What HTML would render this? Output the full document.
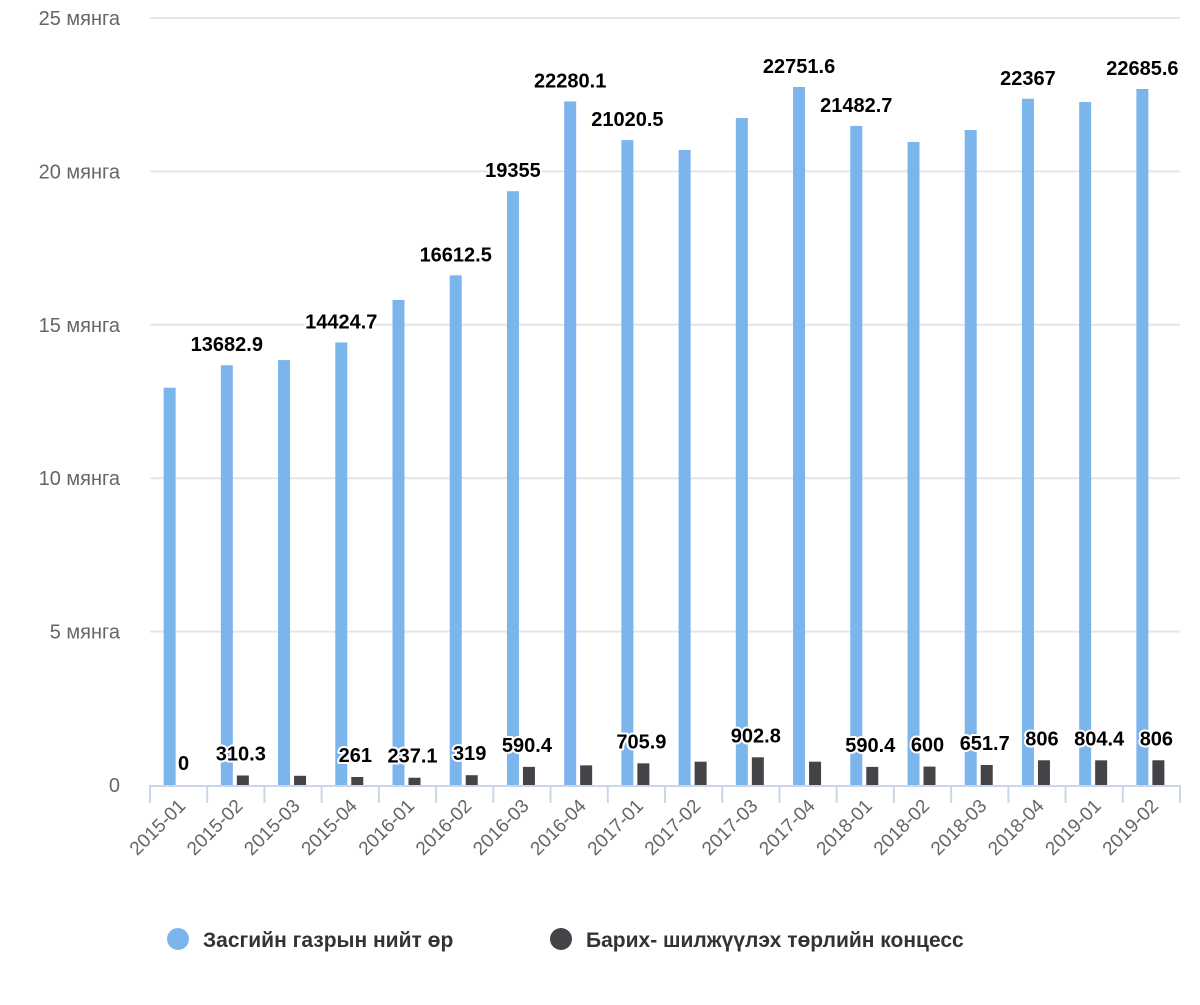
<!DOCTYPE html>
<html><head><meta charset="utf-8"><style>
body{margin:0;background:#fff;font-family:"Liberation Sans",sans-serif;}
svg text{font-family:"Liberation Sans","DejaVu Sans",sans-serif;}
</style></head><body>
<svg id="chart" width="1200" height="1000" xmlns="http://www.w3.org/2000/svg">
<g id="grid"></g>
<g id="yaxis"></g>
<g id="xaxis"></g>
<g id="bars"></g>
<g id="labels"></g>
<g>
<g><circle cx="178" cy="939" r="11" fill="#7cb5ec"/><text x="203" y="947" font-size="21" font-weight="bold" fill="#333">Засгийн газрын нийт өр</text></g>
<g><circle cx="561" cy="939" r="11" fill="#434348"/><text x="586" y="947" font-size="21" font-weight="bold" fill="#333">Барих- шилжүүлэх төрлийн концесс</text></g>
</g>
</svg>
<script>
const categories=["2015-01","2015-02","2015-03","2015-04","2016-01","2016-02","2016-03","2016-04","2017-01","2017-02","2017-03","2017-04","2018-01","2018-02","2018-03","2018-04","2019-01","2019-02"];
const totalDebt=[12950,13682.9,13850,14424.7,15810,16612.5,19355,22280.1,21020.5,20700,21740,22751.6,21482.7,20960,21350,22367,22260,22685.6];
const botConcession=[0,310.3,300,261,237.1,319,590.4,640,705.9,760,902.8,760,590.4,600,651.7,806,804.4,806];
const totalLabelShown=[0,1,0,1,0,1,1,1,1,0,0,1,1,0,0,1,0,1];
const botLabelShown=[1,1,0,1,1,1,1,0,1,0,1,0,1,1,1,1,1,1];
const yTicks=[0,5000,10000,15000,20000,25000];
const yTickLabels=["0","5 мянга","10 мянга","15 мянга","20 мянга","25 мянга"];
const NS="http://www.w3.org/2000/svg";
const X0=150,X1=1180,Y0=785,Y1=18,YMAX=25000;
const bw=(X1-X0)/categories.length;
function y(v){return Y0-(v/YMAX)*(Y0-Y1);}
function xc(i){return X0+bw*i+bw/2;}
function mk(tag,attrs,parent){const e=document.createElementNS(NS,tag);for(const k in attrs)e.setAttribute(k,attrs[k]);parent.appendChild(e);return e;}
const grid=document.getElementById('grid'),ya=document.getElementById('yaxis'),xa=document.getElementById('xaxis'),bars=document.getElementById('bars'),labs=document.getElementById('labels');
yTicks.forEach((t,i)=>{
 if(t>0){const l=mk('line',{x1:X0,x2:X1,y1:y(t),y2:y(t),stroke:'#e6e6e6','stroke-width':2},grid);
 
 }
 const tx=mk('text',{x:120,y:y(t)+7,'text-anchor':'end','font-size':20,fill:'#666'},ya);
 tx.textContent=yTickLabels[i];
 
 
});
const base=mk('line',{x1:X0,x2:X1,y1:Y0+1,y2:Y0+1,stroke:'#ccd6eb','stroke-width':2},xa);


for(let i=0;i<=categories.length;i++){
 const t=mk('line',{x1:X0+bw*i,x2:X0+bw*i,y1:Y0,y2:Y0+18,stroke:'#ccd6eb','stroke-width':2},xa);
 
 
}
function label(x,yy,txt){
 const t=mk('text',{x:x,y:yy,'text-anchor':'middle','font-size':20,'font-weight':'bold',fill:'#000',stroke:'#fff','stroke-width':4,'paint-order':'stroke','stroke-linejoin':'round'},labs);
 t.textContent=txt;
 
 
}
categories.forEach((c,i)=>{
 const cx=xc(i);
 const tx=mk('text',{x:cx+8,y:Y0+22,'text-anchor':'end','font-size':19,fill:'#666',transform:`rotate(-45 ${cx+8} ${Y0+22})`},xa);
 tx.textContent=c;
 
 
 const b1=mk('rect',{x:cx-15,y:y(totalDebt[i]),width:12,height:Y0-y(totalDebt[i]),fill:'#7cb5ec'},bars);
 
 
 const b2=mk('rect',{x:cx+1,y:y(botConcession[i]),width:12,height:Y0-y(botConcession[i]),fill:'#434348'},bars);
 
 
 if(totalLabelShown[i])label(cx-9,y(totalDebt[i])-14,String(totalDebt[i]));
 if(botLabelShown[i])label(cx+5,y(botConcession[i])-15,String(botConcession[i]));
});
</script>
</body></html>
